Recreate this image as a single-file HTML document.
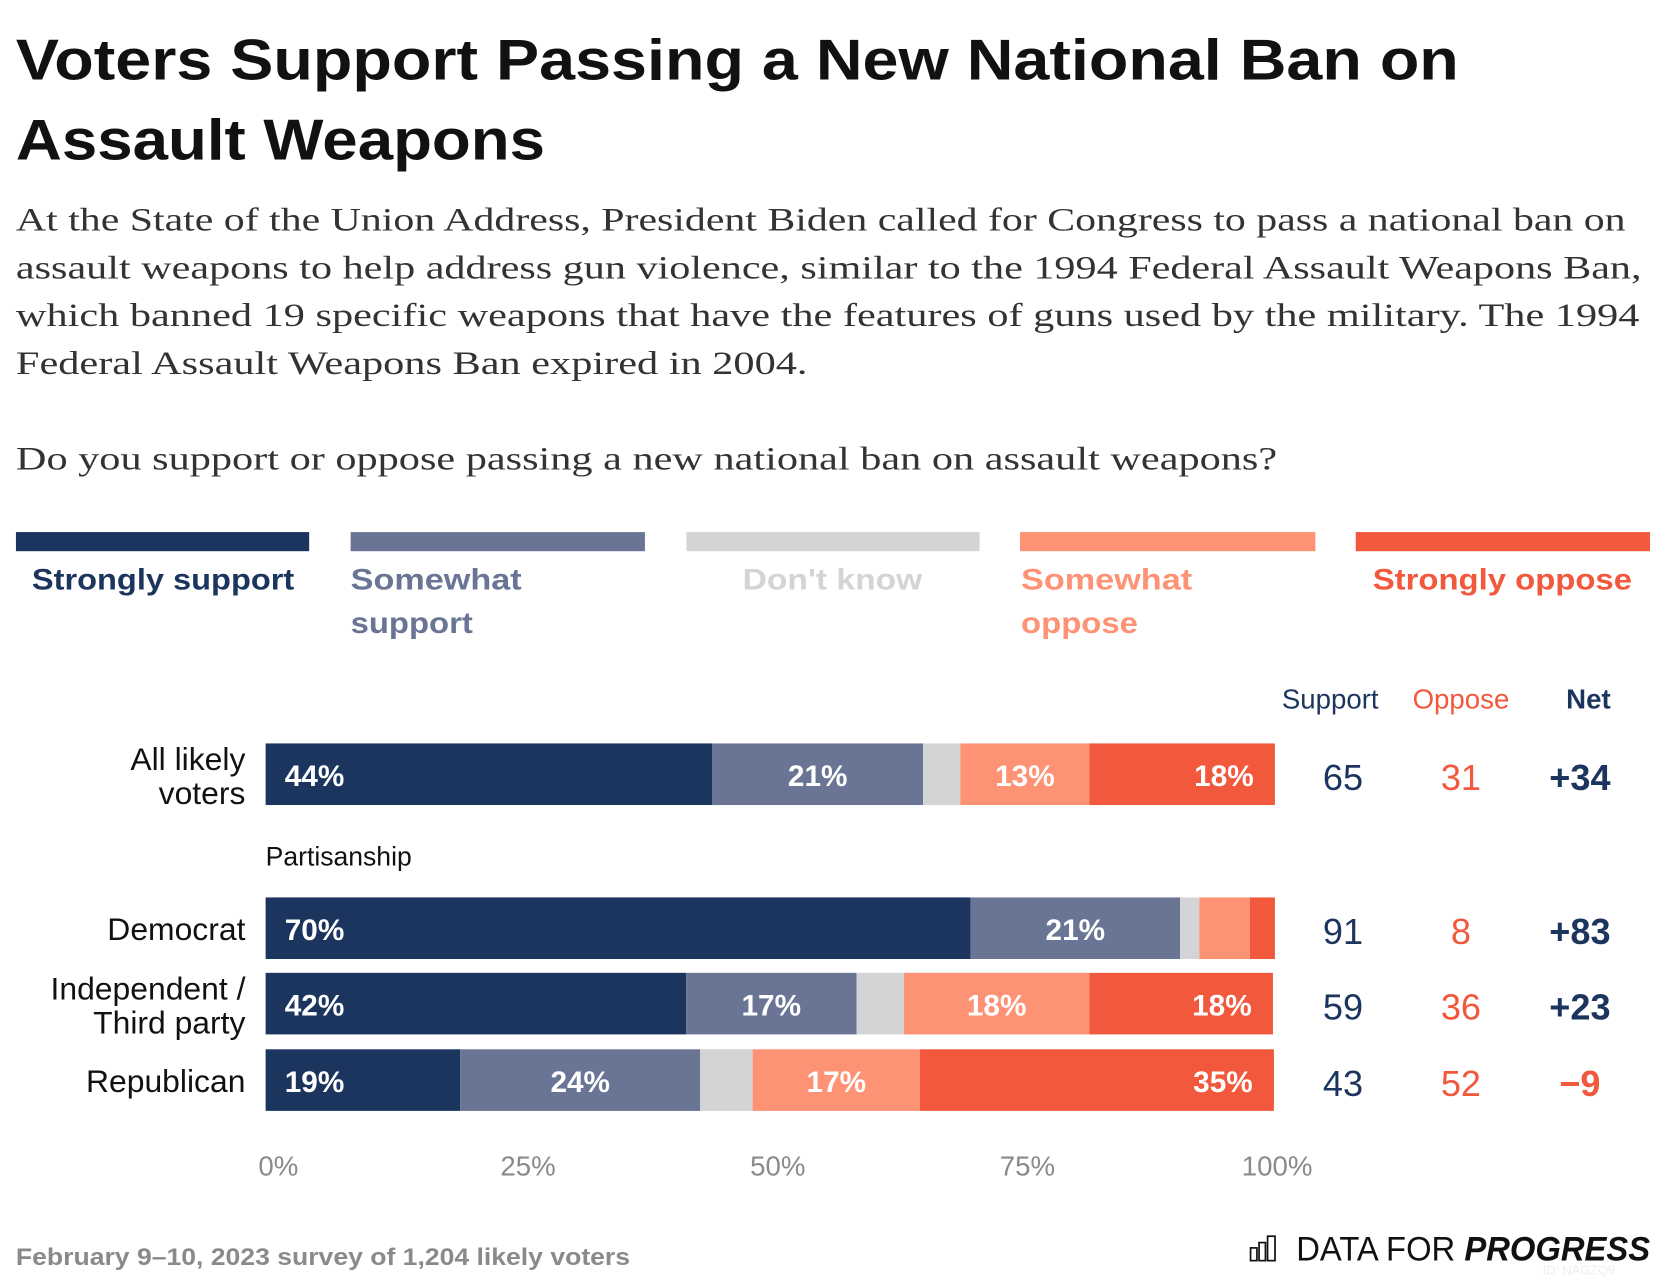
<!DOCTYPE html>
<html><head><meta charset="utf-8"><style>
html,body{margin:0;padding:0;background:#fff;}
svg{display:block;font-family:"Liberation Sans",sans-serif;}
</style></head><body>
<svg id="chart" width="1666" height="1284" viewBox="0 0 1568 1209" preserveAspectRatio="none" xmlns="http://www.w3.org/2000/svg">
<g font-weight="bold" font-size="54" fill="#111">
<text x="15" y="75" textLength="1358" lengthAdjust="spacingAndGlyphs">Voters Support Passing a New National Ban on</text>
<text x="15" y="150" textLength="498" lengthAdjust="spacingAndGlyphs">Assault Weapons</text>
</g>
<g font-family="Liberation Serif, serif" font-size="31" fill="#333">
<text x="15" y="217" textLength="1515" lengthAdjust="spacingAndGlyphs">At the State of the Union Address, President Biden called for Congress to pass a national ban on</text>
<text x="15" y="262" textLength="1530" lengthAdjust="spacingAndGlyphs">assault weapons to help address gun violence, similar to the 1994 Federal Assault Weapons Ban,</text>
<text x="15" y="307" textLength="1528" lengthAdjust="spacingAndGlyphs">which banned 19 specific weapons that have the features of guns used by the military. The 1994</text>
<text x="15" y="352" textLength="745" lengthAdjust="spacingAndGlyphs">Federal Assault Weapons Ban expired in 2004.</text>
<text x="15" y="442" textLength="1187" lengthAdjust="spacingAndGlyphs">Do you support or oppose passing a new national ban on assault weapons?</text>
</g>
<g id="legend"></g>
<g id="bars"></g>
<g id="axis"></g>
<g font-size="26" text-anchor="middle">
<text x="1252" y="667" fill="#1c355e">Support</text>
<text x="1375" y="667" fill="#f1583c">Oppose</text>
<text x="1495" y="667" fill="#1c355e" font-weight="bold">Net</text>
</g>
<text x="250" y="815" font-size="25" fill="#111">Partisanship</text>
<text x="15" y="1191" font-size="23" font-weight="bold" fill="#8a8a8a" textLength="578" lengthAdjust="spacingAndGlyphs">February 9–10, 2023 survey of 1,204 likely voters</text>
<g>
<g fill="none" stroke="#111" stroke-width="1.6">
<rect x="1177" y="1175" width="6" height="12"/><rect x="1185" y="1170" width="6" height="17"/><rect x="1193" y="1164" width="7" height="23"/>
</g>
<text x="1220" y="1187" font-size="32" fill="#111" textLength="333" lengthAdjust="spacingAndGlyphs">DATA FOR <tspan font-weight="bold" font-style="italic">PROGRESS</tspan></text>
<text x="1452" y="1200" font-size="12" fill="#eee">ID: NAGZQ9</text>
</g>
</svg>
<script>
const categories = ["Strongly support","Somewhat support","Don't know","Somewhat oppose","Strongly oppose"];
const groups = ["All likely voters","Democrat","Independent / Third party","Republican"];
const allVoters = [44.3,20.9,3.7,12.8,18.4];
const democrat = [69.9,20.8,1.9,5.0,2.5];
const independent = [41.7,16.9,4.7,18.4,18.2];
const republican = [19.3,23.8,5.2,16.6,35.1];
const supportTotals = [65,91,59,43];
const opposeTotals = [31,8,36,52];
const netValues = ["+34","+83","+23","−9"];
const xTicks = [0,25,50,75,100];
const tickLabels = ["0%","25%","50%","75%","100%"];

const NS="http://www.w3.org/2000/svg";
const colors=["#1c355e","#6a7595","#d3d4d5","#fd9275","#f1583c"];
const X0=250,X1=1199;
const x=v=>X0+(X1-X0)*v/100;
function mk(tag,attrs,parent,txt){const e=document.createElementNS(NS,tag);for(const k in attrs)e.setAttribute(k,attrs[k]);if(txt!==undefined)e.textContent=txt;parent.appendChild(e);return e;}

const leg=document.getElementById('legend');
const legX=[[15,291],[330,607],[646,922],[960,1238],[1276,1553]];
const legLines=[["Strongly support"],["Somewhat","support"],["Don't know"],["Somewhat","oppose"],["Strongly oppose"]];
const legTx=[30,330,699,961,1292];
const legW=[[247],[161,115],[169],[161,110],[244]];
categories.forEach((c,i)=>{
  const r=mk('rect',{x:legX[i][0],y:501,width:legX[i][1]-legX[i][0],height:18,fill:colors[i]},leg);
  
  
  legLines[i].forEach((ln,j)=>{
    const t=mk('text',{x:legTx[i],y:555+j*41,'font-size':28,'font-weight':'bold',fill:colors[i],textLength:legW[i][j],lengthAdjust:'spacingAndGlyphs'},leg,ln);
    
    
  });
});

const bars=document.getElementById('bars');
const rows=[allVoters,democrat,independent,republican];
const rowY=[700,845,916,988];
const rowLabels=[["All likely","voters"],["Democrat"],["Independent /","Third party"],["Republican"]];
const H=58;
rows.forEach((vals,ri)=>{
  let acc=0;const y=rowY[ri];
  vals.forEach((v,si)=>{
    const r=mk('rect',{x:x(acc),y:y,width:x(acc+v)-x(acc),height:H,fill:colors[si]},bars);
    
    
    if(v>=10){
      let tx,anchor;
      if(si===0){tx=x(acc)+18;anchor='start';}
      else if(si===4){tx=x(acc+v)-20;anchor='end';}
      else {tx=(x(acc)+x(acc+v))/2;anchor='middle';}
      const t=mk('text',{x:tx,y:y+40,'font-size':28,'font-weight':'bold',fill:'#fff','text-anchor':anchor},bars,Math.round(v)+'%');
      
      
    }
    acc+=v;
  });
  const lines=rowLabels[ri];
  lines.forEach((ln,j)=>{
    const yy=lines.length===1?y+40:y+25+j*32;
    const t=mk('text',{x:231,y:yy,'font-size':30,fill:'#111','text-anchor':'end'},bars,ln);
    
    
  });
  const s=mk('text',{x:1264,y:y+44,'font-size':34,fill:'#1c355e','text-anchor':'middle'},bars,supportTotals[ri]);
  
  
  const o=mk('text',{x:1375,y:y+44,'font-size':34,fill:'#f1583c','text-anchor':'middle'},bars,opposeTotals[ri]);
  
  
  const neg=netValues[ri].startsWith('−');
  const n=mk('text',{x:1487,y:y+44,'font-size':34,'font-weight':'bold',fill:neg?'#f1583c':'#1c355e','text-anchor':'middle'},bars,netValues[ri]);
  
  
});

const ax=document.getElementById('axis');
xTicks.forEach((v,i)=>{
  const t=mk('text',{x:x(v)+12-v*0.09,y:1107,'font-size':26,fill:'#8a8a8a','text-anchor':'middle'},ax,tickLabels[i]);
  
  
});
</script>
</body></html>
